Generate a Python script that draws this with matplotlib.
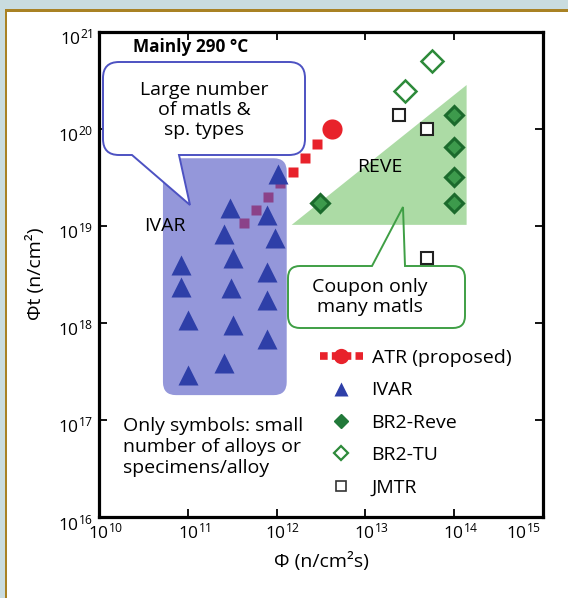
import math
import matplotlib
matplotlib.use('Agg')
import matplotlib.pyplot as plt
from matplotlib.path import Path
from matplotlib.patches import PathPatch, FancyBboxPatch, Rectangle, Polygon
from matplotlib.transforms import IdentityTransform, ScaledTranslation
from matplotlib.lines import Line2D
import matplotlib.ticker as mticker

# ---------------- data ----------------
ivar_flux = [1.03e12, 2.98e11, 7.8e11, 2.55e11, 9.5e11, 8.4e10, 3.2e11, 7.8e11,
             8.4e10, 3.1e11, 7.8e11, 1.0e11, 3.2e11, 7.8e11, 2.55e11, 1.0e11]
ivar_fluence = [3.4e19, 1.52e19, 1.29e19, 8.2e18, 7.5e18, 3.9e18, 4.65e18, 3.35e18,
                2.35e18, 2.3e18, 1.72e18, 1.07e18, 9.5e17, 6.8e17, 3.9e17, 2.9e17]
br2_reve_flux = [3.1e12, 1e14, 1e14, 1e14, 1e14]
br2_reve_fluence = [1.7e19, 1.38e20, 6.5e19, 3.2e19, 1.7e19]
br2_tu_flux = [2.8e13, 5.6e13]
br2_tu_fluence = [2.45e20, 5.0e20]
jmtr_flux = [2.4e13, 5.0e13, 5.0e13]
jmtr_fluence = [1.38e20, 1.0e20, 4.65e18]
atr_flux = [4.3e11, 5.8e11, 8.0e11, 1.09e12, 1.52e12, 2.07e12, 2.83e12, 4.2e12]
atr_fluence = [1.07e19, 1.45e19, 1.98e19, 2.75e19, 3.57e19, 4.98e19, 6.93e19, 1.0e20]
# regions
ivar_region_flux = [5.25e10, 1.3e12]
ivar_region_fluence = [1.8e17, 4.95e19]
reve_region_flux = [1.48e12, 1.38e14, 1.38e14]
reve_region_fluence = [1.02e19, 2.81e20, 1.02e19]

legend_labels = ['ATR (proposed)', 'IVAR', 'BR2-Reve', 'BR2-TU', 'JMTR']
x_ticks = [1e10, 1e11, 1e12, 1e13, 1e14, 1e15]
y_ticks = [1e16, 1e17, 1e18, 1e19, 1e20, 1e21]

# ---------------- style ----------------
W, H = 568, 598
RED = '#e8222b'
BLUE = '#2e3fa8'
BOXBLUE = '#4d52c2'
DKGREEN = '#22793a'
GREEN = '#2d8a3a'
TRI_GREEN = '#acdba5'
CALLOUT_GREEN = '#3f9f45'

plt.rcParams['font.family'] = ['Open Sans', 'DejaVu Sans']
plt.rcParams['mathtext.fontset'] = 'custom'
plt.rcParams['mathtext.rm'] = 'Open Sans'
plt.rcParams['mathtext.it'] = 'Open Sans:italic'
plt.rcParams['mathtext.bf'] = 'Open Sans:bold'

fig = plt.figure(figsize=(W / 100, H / 100), dpi=100, facecolor='white')

# frame decoration
fig.add_artist(Rectangle((0, H - 9.5), W, 9.5, transform=IdentityTransform(),
                         facecolor='#c9dcdf', edgecolor='none', zorder=0))
fig.add_artist(Rectangle((0, 0), 5, H, transform=IdentityTransform(),
                         facecolor='#c9dcdf', edgecolor='none', zorder=0))
fig.add_artist(Rectangle((5, H - 11.5), W, 2.2, transform=IdentityTransform(),
                         facecolor='#a98224', edgecolor='none', zorder=0))
fig.add_artist(Rectangle((5, 0), 2.2, H - 9.5, transform=IdentityTransform(),
                         facecolor='#a98224', edgecolor='none', zorder=0))

ax = fig.add_axes([99 / W, 1 - 517 / H, 444 / W, 485.5 / H])
ax.set_xscale('log')
ax.set_yscale('log')
ax.set_xlim(1e10, 1e15)
ax.set_ylim(1e16, 1e21)
ax.set_facecolor('none')
for s in ax.spines.values():
    s.set_linewidth(2.3)
    s.set_zorder(6)
ax.set_xticks(x_ticks)
ax.set_yticks(y_ticks)
ax.xaxis.set_minor_locator(mticker.NullLocator())
ax.yaxis.set_minor_locator(mticker.NullLocator())
fmt = mticker.FuncFormatter(lambda v, p: r'$\mathregular{10^{%d}}$' % round(math.log10(v)))
ax.xaxis.set_major_formatter(fmt)
ax.yaxis.set_major_formatter(fmt)
ax.tick_params(which='major', direction='in', length=6, width=1.3, top=True, right=True,
               labelsize=12.5, pad=4)
ax.set_xlabel('Φ (n/cm²s)', fontsize=14)
ax.set_ylabel('Φt (n/cm²)', fontsize=14)
ax.xaxis.set_label_coords(0.5, -(562 - 517) / 485.5)
ax.xaxis.label.set_va('center')
ax.yaxis.set_label_coords(-(99 - 35) / 444, 0.5)
ax.yaxis.label.set_va('center')

# tick label offsets
for lbl in ax.get_yticklabels():
    lbl.set_transform(lbl.get_transform() + ScaledTranslation(0, -5 / 100, fig.dpi_scale_trans))
xl = ax.get_xticklabels()
for i, lbl in enumerate(xl):
    dx = 6.5 if i < len(xl) - 1 else -19
    lbl.set_transform(lbl.get_transform() + ScaledTranslation(dx / 100, 0, fig.dpi_scale_trans))


def P(x, y):
    return (x, H - y)


def bubble(x0, y0, x1, y1, r, side, tb0, tb1, apex):
    verts, codes = [], []

    def add(code, *pts):
        for p in pts:
            verts.append(P(*p))
            codes.append(code)
    add(Path.MOVETO, (x0 + r, y0))
    if side == 'top':
        add(Path.LINETO, (tb0, y0), apex, (tb1, y0))
    add(Path.LINETO, (x1 - r, y0))
    add(Path.CURVE3, (x1, y0), (x1, y0 + r))
    add(Path.LINETO, (x1, y1 - r))
    add(Path.CURVE3, (x1, y1), (x1 - r, y1))
    if side == 'bottom':
        add(Path.LINETO, (tb1, y1), apex, (tb0, y1))
    add(Path.LINETO, (x0 + r, y1))
    add(Path.CURVE3, (x0, y1), (x0, y1 - r))
    add(Path.LINETO, (x0, y0 + r))
    add(Path.CURVE3, (x0, y0), (x0 + r, y0))
    add(Path.CLOSEPOLY, (x0 + r, y0))
    return Path(verts, codes)


# green callout (fill below triangle, outline above)
gpath = bubble(288, 266, 465, 328, 12, 'top', 372, 405, (403, 207))
ax.add_patch(PathPatch(gpath, transform=IdentityTransform(), facecolor='white',
                       edgecolor='none', zorder=1))
ax.add_patch(PathPatch(gpath, transform=IdentityTransform(), facecolor='none',
                       edgecolor=CALLOUT_GREEN, lw=1.4, zorder=3))

# REVE region
ax.add_patch(Polygon(list(zip(reve_region_flux, reve_region_fluence)), closed=True,
                     facecolor=TRI_GREEN, edgecolor='none', zorder=1.5))

# ATR proposed
ax.plot(atr_flux[:-1], atr_fluence[:-1], ls='none', marker='s', ms=7,
        color=RED, mec='none', zorder=2)
ax.plot(atr_flux[-1:], atr_fluence[-1:], ls='none', marker='o', ms=14.5,
        color=RED, mec='none', zorder=2)

# IVAR region (rounded box)
(bx0, by0) = ax.transData.transform((ivar_region_flux[0], ivar_region_fluence[0]))
(bx1, by1) = ax.transData.transform((ivar_region_flux[1], ivar_region_fluence[1]))
ax.add_patch(FancyBboxPatch((bx0, by0), bx1 - bx0, by1 - by0,
                            boxstyle='round,pad=0,rounding_size=13',
                            transform=IdentityTransform(), facecolor='#5257c4',
                            alpha=0.62, edgecolor='none', zorder=2.5))

# blue callout
bpath = bubble(103, 62, 305, 155, 16, 'bottom', 132, 179, (190, 205))
ax.add_patch(PathPatch(bpath, transform=IdentityTransform(), facecolor='white',
                       edgecolor=BOXBLUE, lw=1.4, zorder=3))

# symbols
ax.plot(ivar_flux, ivar_fluence, ls='none', marker='^', ms=14, color=BLUE,
        mec='none', zorder=4)
ax.plot(br2_reve_flux, br2_reve_fluence, ls='none', marker='D', ms=9, mfc='#3d9a4c',
        mec='#1b6a2c', mew=2.2, zorder=4)
ax.plot(br2_tu_flux, br2_tu_fluence, ls='none', marker='D', ms=11, mfc='white',
        mec=GREEN, mew=1.8, zorder=4)
ax.plot(jmtr_flux, jmtr_fluence, ls='none', marker='s', ms=9, mfc='white',
        mec='#222222', mew=1.5, zorder=4)

# legend
handles = [
    Line2D([], [], color=RED, lw=5.5, ls=(0, (1.0, 0.55)), dash_capstyle='butt',
           marker='o', ms=11, mec='none'),
    Line2D([], [], ls='none', marker='^', ms=10, color=BLUE, mec='none'),
    Line2D([], [], ls='none', marker='D', ms=7, mfc=DKGREEN, mec=DKGREEN),
    Line2D([], [], ls='none', marker='D', ms=7.5, mfc='white', mec=GREEN, mew=1.6),
    Line2D([], [], ls='none', marker='s', ms=7, mfc='white', mec='#333333', mew=1.2),
]
leg = ax.legend(handles, legend_labels, loc='upper left',
                bbox_to_anchor=(320 / W, 1 - 349 / H), bbox_transform=fig.transFigure,
                frameon=False, fontsize=14, handlelength=2.2, handletextpad=0.45,
                labelspacing=0.74, borderpad=0, borderaxespad=0, numpoints=1)
leg.set_zorder(5)

# texts
def T(x, y, s, **kw):
    kw.setdefault('fontsize', 14)
    kw.setdefault('va', 'center')
    kw.setdefault('ha', 'center')
    fig.text(x / W, 1 - y / H, s, zorder=7, **kw)

T(133, 47, 'Mainly 290 °C', ha='left', fontweight='bold', fontsize=12.4)
T(204, 110, 'Large number\nof matls &\nsp. types', linespacing=1.15)
T(165, 226, 'IVAR')
T(380, 167, 'REVE')
T(370, 297, 'Coupon only\nmany matls', linespacing=1.1)
T(123, 447, 'Only symbols: small\nnumber of alloys or\nspecimens/alloy', ha='left',
  linespacing=1.2)

fig.savefig('out.png', dpi=100, facecolor='white')
